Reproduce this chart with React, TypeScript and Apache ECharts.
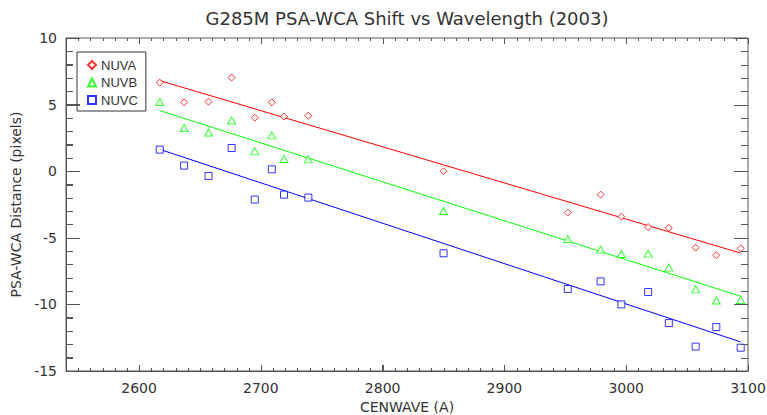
import React, { useEffect, useRef } from 'react';
import * as echarts from 'echarts';

const cenwave = [2617, 2637, 2657, 2676, 2695, 2709, 2719, 2739, 2850, 2952, 2979, 2996, 3018, 3035, 3057, 3074, 3094];
const nuvaShift = [6.65, 5.17, 5.22, 7.03, 4.02, 5.17, 4.1, 4.17, 0.0, -3.11, -1.76, -3.41, -4.19, -4.26, -5.74, -6.31, -5.79];
const nuvbShift = [5.2, 3.24, 2.9, 3.8, 1.49, 2.69, 0.92, 0.89, -2.99, -5.09, -5.89, -6.22, -6.19, -7.24, -8.87, -9.71, -9.67];
const nuvcShift = [1.62, 0.42, -0.36, 1.74, -2.13, 0.14, -1.76, -1.98, -6.16, -8.84, -8.27, -10.0, -9.07, -11.4, -13.17, -11.7, -13.25];

const fitWave = [2617, 3094];
const nuvaFit = [6.8, -6.15];
const nuvbFit = [4.55, -9.39];
const nuvcFit = [1.64, -12.82];

const X_MIN = 2540;
const X_MAX = 3100;
const Y_MIN = -15;
const Y_MAX = 10;
const xMajorTicks = [2600, 2700, 2800, 2900, 3000, 3100];
const yMajorTicks = [-15, -10, -5, 0, 5, 10];
const X_MINOR_STEP = 10;
const Y_MINOR_STEP = 1;
const seriesNames = ['NUVA', 'NUVB', 'NUVC'];

const RED = '#ff0000';
const GREEN = '#00ff00';
const BLUE = '#0000ff';
const AXIS = '#555555';
const TEXT = '#333333';
const FONT = 'DejaVu Sans';

const pairs = (xs: number[], ys: number[]) => xs.map((x, i) => [x, ys[i]]);
const steps = (a: number, b: number, s: number) => {
  const out: number[] = [];
  for (let v = a; v <= b + 1e-9; v += s) out.push(Math.round(v * 1000) / 1000);
  return out;
};

export default function App() {
  const ref = useRef<HTMLDivElement>(null);
  useEffect(() => {
    const chart = echarts.init(ref.current!, null, { renderer: 'svg' });

    const xMinor = steps(X_MIN, X_MAX, X_MINOR_STEP).filter((v) => !xMajorTicks.includes(v));
    const yMinor = steps(Y_MIN, Y_MAX, Y_MINOR_STEP).filter((v) => !yMajorTicks.includes(v));
    const xTickData = [...xMajorTicks.map((v) => [v, Y_MIN, 6]), ...xMinor.map((v) => [v, Y_MIN, 3])];
    const yTickData = [...yMajorTicks.map((v) => [X_MIN, v, 14]), ...yMinor.map((v) => [X_MIN, v, 7])];

    const seg = (x1: number, y1: number, x2: number, y2: number) => ({
      type: 'line',
      shape: { x1, y1, x2, y2 },
      style: { stroke: AXIS, lineWidth: 1 },
    });
    const ticks = (data: number[][], kind: string) => ({
      type: 'custom',
      xAxisIndex: 0,
      yAxisIndex: 0,
      z: 5,
      data,
      renderItem: (_p: any, api: any) => {
        const len = api.value(2);
        if (kind === 'x') {
          const v = api.value(0);
          const b = api.coord([v, Y_MIN]);
          const t = api.coord([v, Y_MAX]);
          const x = Math.round(b[0]) + 0.5;
          return { type: 'group', children: [seg(x, b[1], x, b[1] - len), seg(x, t[1], x, t[1] + len)] };
        }
        const v = api.value(1);
        const l = api.coord([X_MIN, v]);
        const r = api.coord([X_MAX, v]);
        const y = Math.round(l[1]) + 0.5;
        return { type: 'group', children: [seg(l[0], y, l[0] + len, y), seg(r[0], y, r[0] - len, y)] };
      },
    });

    const scatter = (name: string, symbol: string, size: any, color: string, ys: number[]) => ({
      type: 'scatter',
      name,
      symbol,
      symbolSize: size,
      data: pairs(cenwave, ys),
      itemStyle: { color: '#ffffff', borderColor: color, borderWidth: 1 },
      xAxisIndex: 0,
      yAxisIndex: 0,
      z: 3,
    });
    const fit = (ys: number[], color: string) => ({
      type: 'line',
      data: pairs(fitWave, ys),
      showSymbol: false,
      symbol: 'none',
      lineStyle: { color, width: 1 },
      xAxisIndex: 0,
      yAxisIndex: 0,
      z: 2,
    });

    const option: any = {
      animation: false,
      backgroundColor: '#ffffff',
      grid: {
        left: 66,
        right: 19,
        top: 38,
        bottom: 44,
        containLabel: false,
        outerBoundsMode: 'none',
        show: true,
        borderColor: AXIS,
        borderWidth: 1,
        backgroundColor: 'rgba(0,0,0,0)',
      },
      graphic: [
        {
          type: 'text',
          x: 407,
          y: 18,
          style: {
            text: 'G285M PSA-WCA Shift vs Wavelength (2003)',
            fontFamily: FONT,
            fontSize: 18,
            fill: TEXT,
            textAlign: 'center',
            textVerticalAlign: 'middle',
          },
        },
      ],
      legend: {
        orient: 'vertical',
        left: 77,
        top: 52,
        data: [
          { name: 'NUVA', icon: 'diamond' },
          { name: 'NUVB', icon: 'triangle' },
          { name: 'NUVC', icon: 'rect' },
        ],
        itemWidth: 8,
        itemHeight: 8,
        itemGap: 3.5,
        padding: [6, 8, 4, 10],
        borderColor: '#333',
        borderWidth: 1,
        selectedMode: false,
        textStyle: { fontFamily: 'Liberation Sans', fontSize: 13, color: TEXT, lineHeight: 14 },
      },
      xAxis: {
        type: 'value',
        min: X_MIN,
        max: X_MAX,
        position: 'bottom',
        name: 'CENWAVE (A)',
        nameLocation: 'middle',
        nameGap: 29,
        nameTextStyle: { fontFamily: FONT, fontSize: 14, color: TEXT },
        axisLine: { show: true, onZero: false, lineStyle: { color: AXIS } },
        axisTick: { show: true, inside: true, length: 6, customValues: xMajorTicks, lineStyle: { color: AXIS } },
        splitLine: { show: false },
        axisLabel: {
          show: true,
          customValues: xMajorTicks,
          margin: 10,
          fontFamily: FONT,
          fontSize: 14,
          color: TEXT,
          formatter: (v: number) => String(v),
        },
      },
      yAxis: {
        type: 'value',
        min: Y_MIN,
        max: Y_MAX,
        interval: 5,
        position: 'left',
        name: 'PSA-WCA Distance (pixels)',
        nameLocation: 'middle',
        nameGap: 41,
        nameTextStyle: { fontFamily: FONT, fontSize: 14, color: TEXT },
        axisLine: { show: true, onZero: false, lineStyle: { color: AXIS } },
        axisTick: { show: true, inside: true, length: 14, lineStyle: { color: AXIS } },
        minorTick: { show: true, splitNumber: 5, length: 7, lineStyle: { color: AXIS } },
        splitLine: { show: false },
        axisLabel: { show: true, margin: 9, fontFamily: FONT, fontSize: 14, color: TEXT },
      },
      series: [
        ticks(xTickData, 'x'),
        ticks(yTickData, 'y'),
        fit(nuvaFit, RED),
        fit(nuvbFit, GREEN),
        fit(nuvcFit, BLUE),
        scatter(seriesNames[0], 'diamond', 7, RED, nuvaShift),
        scatter(seriesNames[1], 'triangle', [8, 7], GREEN, nuvbShift),
        scatter(seriesNames[2], 'rect', 7, BLUE, nuvcShift),
      ],
    };
    chart.setOption(option);
    return () => chart.dispose();
  }, []);
  return <div ref={ref} style={{ position: 'fixed', left: 0, top: 0, width: 767, height: 415 }} />;
}
